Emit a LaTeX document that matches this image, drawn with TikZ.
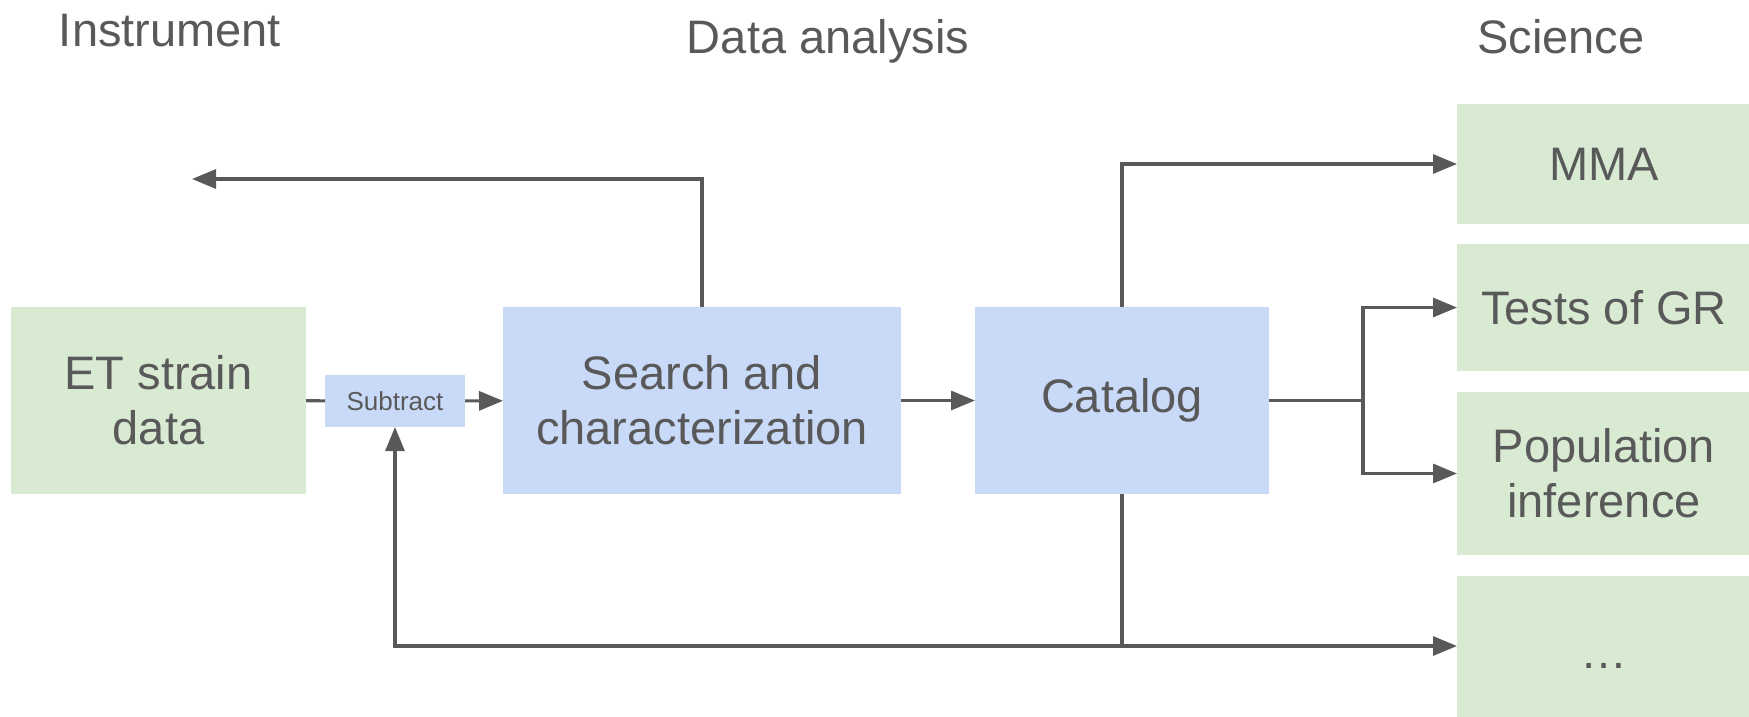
\documentclass[tikz,border=0pt]{standalone}
\usepackage{fontspec}
\setmainfont{Liberation Sans}
\usetikzlibrary{arrows.meta,positioning}
\definecolor{etgreen}{HTML}{D9EAD3}
\definecolor{etblue}{HTML}{C9DAF8}
\definecolor{etgrey}{HTML}{595959}
\tikzset{
 et box/.style={rectangle,inner sep=0pt,outer sep=0pt,align=center,
                text=etgrey,font=\fontsize{47}{55}\selectfont},
 et instrument/.style={et box,fill=etgreen},
 et analysis/.style={et box,fill=etblue},
 et heading/.style={anchor=base,text=etgrey,font=\fontsize{47}{55}\selectfont},
 et line/.style={draw=etgrey,line width=3.2pt},
 et arrow/.style={et line,-{Triangle[length=24pt,width=19pt]}}
}

\begin{document}
\begin{tikzpicture}[x=1pt,y=-1pt]
 \useasboundingbox (0,0) rectangle (1749,716);
 % column headings
 \node[et heading] (hinst) at (170,46) {Instrument};
 \node[et heading] (hdata) at (828,53) {Data analysis};
 \node[et heading] (hsci)  at (1561,53) {Science};
 % main chain
 \node[et instrument,minimum width=295pt,minimum height=187pt] (et) at (158.5,400.5) {ET strain\\data};
 \node[et analysis,minimum width=140pt,minimum height=52pt,
       font=\fontsize{26}{30}\selectfont] (sub) at (395,401) {Subtract};
 \node[et analysis,minimum width=398pt,minimum height=187pt] (search) at (702,400.5) {Search and\\characterization};
 \node[et analysis,minimum width=294pt,minimum height=187pt] (cat) at (1122,400.5) {Catalog};
 % science outputs
 \foreach \n/\y/\h/\t in {mma/164/120/MMA,gr/307.5/127/Tests of GR,
                          pop/473.5/163/Population\\inference,dots/666/180/\dots}{
   \node[et instrument,minimum width=294pt,minimum height=\h pt] (\n) at (1604,\y) {\t};
 }
 % connectors
 \coordinate (back) at (192,179);
 \coordinate (fork) at (1363,400.5);
 \coordinate (junc) at (1122,646);
 \draw[et line] (et) -- (sub);
 \draw[et arrow] (sub) -- (search);
 \draw[et arrow] (search) -- (cat);
 \draw[et arrow] (search.north) |- (back);
 \draw[et arrow] (cat.north) |- (mma.west);
 \draw[et line] (cat.east) -- (fork);
 \draw[et arrow] (fork) |- (gr.west);
 \draw[et arrow] (fork) |- (pop.west);
 \draw[et line] (cat.south) -- (junc);
 \draw[et arrow] (junc) -| (sub.south);
 \draw[et arrow] (junc) -- (junc -| dots.west);
\end{tikzpicture}
\end{document}
